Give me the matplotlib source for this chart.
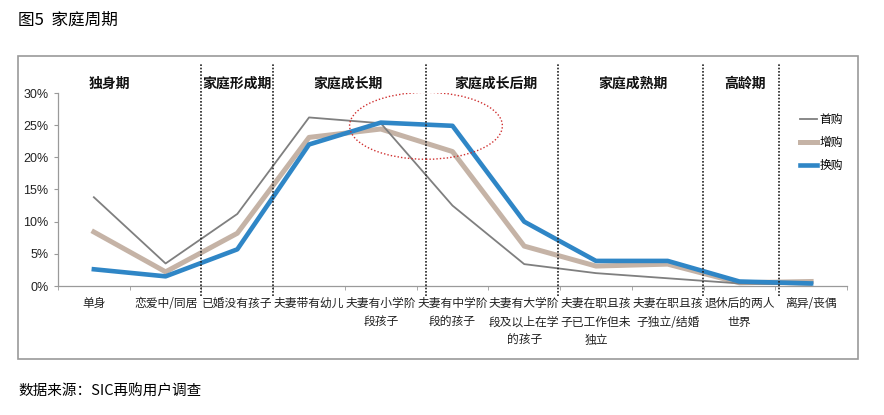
import matplotlib
matplotlib.use("Agg")
import matplotlib.pyplot as plt
from matplotlib.patches import Rectangle, Ellipse
import numpy as np

plt.rcParams['font.family'] = ['Noto Sans CJK SC', 'DejaVu Sans']

categories = ['单身', '恋爱中/同居', '已婚没有孩子', '夫妻带有幼儿',
              '夫妻有小学阶\n段孩子', '夫妻有中学阶\n段的孩子',
              '夫妻有大学阶\n段及以上在学\n的孩子', '夫妻在职且孩\n子已工作但未\n独立',
              '夫妻在职且孩\n子独立/结婚', '退休后的两人\n世界', '离异/丧偶']
first_buy = [13.8, 3.5, 11.2, 26.2, 25.3, 12.5, 3.4, 2.0, 1.2, 0.4, 0.2]
add_buy = [8.4, 2.2, 8.2, 23.1, 24.4, 20.9, 6.2, 3.1, 3.4, 0.5, 0.7]
change_buy = [2.6, 1.5, 5.7, 22.0, 25.4, 24.9, 10.0, 3.9, 3.9, 0.7, 0.4]
phases = ['独身期', '家庭形成期', '家庭成长期', '家庭成长后期', '家庭成熟期', '高龄期']
phase_pos = [0.22, 2.0, 3.55, 5.6, 7.52, 9.08]
dividers = [1.5, 2.5, 4.63, 6.47, 8.49, 9.55]

fig = plt.figure(figsize=(8.84, 4.15), dpi=100)

# outer frame
fig.patches.append(Rectangle((18 / 884, (415 - 359) / 415), 840 / 884, 303 / 415,
                             transform=fig.transFigure, fill=False,
                             edgecolor='#9a9a9a', linewidth=1.2))

ax = fig.add_axes([58 / 884, (415 - 286) / 415, (847 - 58) / 884, (286 - 93) / 415])
x = np.arange(len(categories))

ax.plot(x, first_buy, color='#7f7f7f', linewidth=1.3, label='首购', zorder=3)
ax.plot(x, add_buy, color='#c5b3a6', linewidth=3.6, label='增购', zorder=2)
ax.plot(x, change_buy, color='#2f86c6', linewidth=3.3, label='换购', zorder=4)

ax.set_xlim(-0.5, len(categories) - 0.5)
ax.set_ylim(0, 30)
ax.set_yticks(range(0, 31, 5))
ax.set_yticklabels([f'{v}%' for v in range(0, 31, 5)], family=['Liberation Sans'],
                   fontsize=9, color='#222222')
ax.set_xticks(x)
ax.set_xticklabels(categories, fontsize=8.5, linespacing=1.55, va='top', color='#222222')
ax.set_xticks(np.arange(-0.5, len(categories)), minor=True)
ax.tick_params(axis='x', which='major', length=0, pad=8)
ax.tick_params(axis='x', which='minor', length=3, color='#9a9a9a', direction='out')
ax.tick_params(axis='y', length=3, color='#9a9a9a', pad=4)

for s in ['top', 'right']:
    ax.spines[s].set_visible(False)
for s in ['left', 'bottom']:
    ax.spines[s].set_color('#9a9a9a')
    ax.spines[s].set_linewidth(0.9)

for d in dividers:
    ax.plot([d, d], [-1.5, 34.7], color='#222222', linestyle=(0, (1, 1)),
            linewidth=1.2, clip_on=False, zorder=5)

for name, px in zip(phases, phase_pos):
    ax.text(px, 31.5, name, ha='center', va='center', fontsize=10,
            fontweight='bold', color='#111111')

ax.add_patch(Ellipse((4.63, 24.9), 2.13, 10.4, fill=False, edgecolor='#d03030',
                     linestyle=(0, (1, 1.5)), linewidth=1.0, zorder=6))

leg = ax.legend(loc='upper left', bbox_to_anchor=(0.94, 0.895), frameon=False,
                fontsize=8.5, handlelength=1.5, handletextpad=0.15, labelspacing=0.85,
                borderpad=0, borderaxespad=0)

fig.text(18 / 884, 1 - 20 / 415, '图5  家庭周期', fontsize=12, va='center', ha='left')
fig.text(18 / 884, 1 - 392 / 415, '数据来源：SIC再购用户调查', fontsize=10.5,
         va='center', ha='left')

fig.savefig('out.png', dpi=100)
